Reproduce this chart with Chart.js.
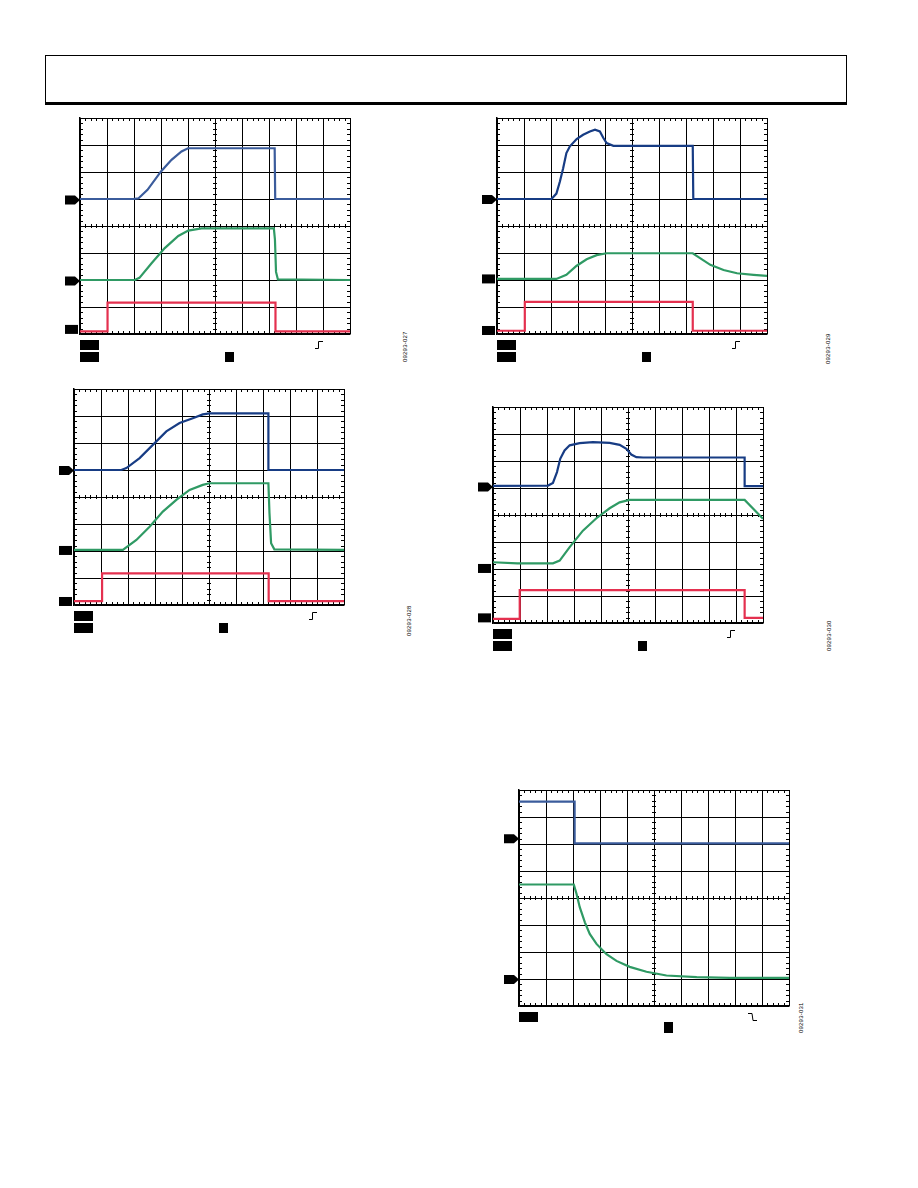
<!DOCTYPE html>
<html>
<head>
<meta charset="utf-8">
<script src="https://cdn.jsdelivr.net/npm/chart.js@4"></script>
<style>
  body { margin: 0; background: #fff; width: 918px; height: 1188px; position: relative; overflow: hidden; font-family: "Liberation Sans", Arial, sans-serif; }
  .cabecalho { position: absolute; left: 45px; top: 55px; width: 800px; height: 46px; border: 1px solid #000; border-bottom: 3px solid #000; }
  canvas { position: absolute; }
  .ident { position: absolute; font-size: 6px; line-height: 6px; color: #000; transform: rotate(-90deg); transform-origin: left top; white-space: nowrap; letter-spacing: 0.2px; }
</style>
</head>
<body>
<div class="cabecalho"></div>

<canvas id="painel1" width="295" height="253" style="left:60px;top:113px"></canvas>
<canvas id="painel2" width="295" height="253" style="left:477px;top:113px"></canvas>
<canvas id="painel3" width="295" height="253" style="left:54px;top:384px"></canvas>
<canvas id="painel4" width="295" height="253" style="left:473px;top:402px"></canvas>
<canvas id="painel5" width="295" height="253" style="left:499px;top:785px"></canvas>

<div class="ident" style="left:402px;top:362px">09293-027</div>
<div class="ident" style="left:825px;top:364px">09293-029</div>
<div class="ident" style="left:406px;top:636px">09293-028</div>
<div class="ident" style="left:826px;top:651px">09293-030</div>
<div class="ident" style="left:798px;top:1033px">09293-031</div>

<script>
// Divisões da tela do osciloscópio (10 x 8)
const divisoesX = [0, 1, 2, 3, 4, 5, 6, 7, 8, 9, 10];
const divisoesY = [0, 1, 2, 3, 4, 5, 6, 7, 8];

// Painel 1 (superior esquerdo)
const p1Azul = [[0, 5], [1.97, 5], [2.16, 5.02], [2.5, 5.34], [3.0, 6.02], [3.39, 6.45], [3.76, 6.76], [4.0, 6.88], [7.21, 6.88], [7.23, 5.0], [10, 5]];
const p1Verde = [[0, 2], [2.03, 2], [2.2, 2.08], [2.65, 2.62], [3.14, 3.18], [3.64, 3.63], [4.01, 3.83], [4.5, 3.91], [7.18, 3.91], [7.22, 3.5], [7.26, 2.3], [7.33, 2.02], [10, 2]];
const p1Vermelho = [[0, 0.1], [1.02, 0.1], [1.02, 1.16], [7.24, 1.16], [7.24, 0.1], [10, 0.1]];

// Painel 2 (superior direito)
const p2Azul = [[0, 5], [2.02, 5], [2.2, 5.2], [2.33, 5.65], [2.45, 6.14], [2.57, 6.7], [2.7, 6.95], [2.95, 7.22], [3.19, 7.38], [3.44, 7.5], [3.63, 7.57], [3.81, 7.5], [3.94, 7.26], [4.06, 7.07], [4.31, 6.97], [7.25, 6.97], [7.27, 5.0], [10, 5]];
const p2Verde = [[0, 2.04], [2.2, 2.04], [2.57, 2.19], [2.94, 2.52], [3.32, 2.77], [3.69, 2.92], [4.06, 2.99], [7.25, 2.99], [7.52, 2.81], [7.9, 2.56], [8.39, 2.37], [8.89, 2.25], [9.5, 2.19], [10, 2.15]];
const p2Vermelho = [[0, 0.12], [1.03, 0.12], [1.03, 1.19], [7.25, 1.19], [7.25, 0.12], [10, 0.12]];

// Painel 3 (meio esquerdo)
const p3Azul = [[0, 5], [1.75, 5], [1.94, 5.07], [2.43, 5.44], [2.92, 5.93], [3.42, 6.43], [3.91, 6.74], [4.4, 6.92], [4.77, 7.06], [5.02, 7.1], [7.2, 7.1], [7.2, 5.0], [10, 5]];
const p3Verde = [[0, 2.04], [1.81, 2.04], [2.31, 2.41], [2.8, 2.9], [3.29, 3.46], [3.79, 3.89], [4.28, 4.26], [4.77, 4.45], [5.02, 4.51], [7.2, 4.51], [7.24, 3.4], [7.3, 2.29], [7.42, 2.06], [10, 2.04]];
const p3Vermelho = [[0, 0.14], [1.04, 0.14], [1.04, 1.17], [7.21, 1.17], [7.21, 0.14], [10, 0.14]];

// Painel 4 (meio direito)
const p4Azul = [[0, 5.08], [2.04, 5.09], [2.22, 5.19], [2.37, 5.59], [2.49, 6.08], [2.65, 6.39], [2.84, 6.58], [3.21, 6.66], [3.7, 6.7], [4.32, 6.67], [4.69, 6.6], [4.94, 6.45], [5.12, 6.24], [5.31, 6.14], [5.56, 6.13], [9.32, 6.13], [9.32, 5.07], [10, 5.07]];
const p4Verde = [[0, 2.25], [0.9, 2.21], [2.22, 2.21], [2.47, 2.31], [2.84, 2.81], [3.33, 3.42], [3.83, 3.88], [4.32, 4.25], [4.69, 4.47], [5.06, 4.56], [9.32, 4.56], [10, 3.86]];
const p4Vermelho = [[0, 0.15], [0.99, 0.15], [0.99, 1.22], [9.32, 1.22], [9.32, 0.19], [10, 0.19]];

// Painel 5 (inferior direito)
const p5Azul = [[0, 7.57], [2.06, 7.57], [2.06, 6.02], [10, 6.02]];
const p5Verde = [[0, 4.5], [2.03, 4.5], [2.13, 4.16], [2.25, 3.66], [2.44, 3.1], [2.62, 2.67], [2.87, 2.3], [3.24, 1.92], [3.61, 1.67], [4.1, 1.45], [4.72, 1.27], [5.46, 1.13], [6.58, 1.07], [7.81, 1.04], [10, 1.04]];

const azulClaro = '#3b5c9c';
const azulEscuro = '#173c84';
const verde = '#2f9a64';
const vermelho = '#e4304f';

// Plugin que desenha as marcas menores, os marcadores de canal e as etiquetas
const pluginOsciloscopio = {
    id: 'osciloscopio',
    beforeDatasetsDraw(chart) {
        const ctx = chart.ctx;
        const a = chart.chartArea;
        const sx = chart.scales.x, sy = chart.scales.y;
        ctx.save();
        ctx.strokeStyle = '#000';
        ctx.lineWidth = 1;
        ctx.beginPath();
        for (let v = 0.2; v < 10; v += 0.2) {
            const px = Math.round(sx.getPixelForValue(v)) + 0.5;
            ctx.moveTo(px, a.top); ctx.lineTo(px, a.top + 3);
            ctx.moveTo(px, a.bottom); ctx.lineTo(px, a.bottom - 3);
            const cy = sy.getPixelForValue(4);
            ctx.moveTo(px, cy - 2); ctx.lineTo(px, cy + 2);
        }
        for (let v = 0.2; v < 8; v += 0.2) {
            const py = Math.round(sy.getPixelForValue(v)) + 0.5;
            ctx.moveTo(a.left, py); ctx.lineTo(a.left + 3, py);
            ctx.moveTo(a.right, py); ctx.lineTo(a.right - 3, py);
            const cx = sx.getPixelForValue(5);
            ctx.moveTo(cx - 2, py); ctx.lineTo(cx + 2, py);
        }
        ctx.stroke();
        ctx.restore();
    },
    afterDraw(chart) {
        const op = chart.options.plugins.osciloscopio;
        const ctx = chart.ctx;
        const a = chart.chartArea;
        const sy = chart.scales.y;
        ctx.save();
        ctx.fillStyle = '#000';
        // marcadores de canal à esquerda
        op.marcadores.forEach(function (m) {
            const py = sy.getPixelForValue(m.y);
            if (m.tipo === 'seta') {
                ctx.beginPath();
                ctx.moveTo(a.left - 15, py - 4.5);
                ctx.lineTo(a.left - 5, py - 4.5);
                ctx.lineTo(a.left, py);
                ctx.lineTo(a.left - 5, py + 4.5);
                ctx.lineTo(a.left - 15, py + 4.5);
                ctx.closePath();
                ctx.fill();
            } else {
                ctx.fillRect(a.left - 15, py - 4.5, 13, 9);
            }
        });
        // etiquetas (texto censurado) abaixo da tela
        ctx.fillRect(a.left, a.bottom + 6, 19, 10);
        if (op.duasLinhas) {
            ctx.fillRect(a.left, a.bottom + 18, 19, 10);
            ctx.fillRect(a.left + 145, a.bottom + 18, 9, 10);
        } else {
            ctx.fillRect(a.left + 145, a.bottom + 16, 9, 11);
        }
        // símbolo do gatilho
        const tx = a.left + op.gatilhoX, ty = a.bottom + 7;
        ctx.strokeStyle = '#000';
        ctx.lineWidth = 1;
        ctx.beginPath();
        if (op.gatilho === 'sobe') {
            ctx.moveTo(tx, ty + 7.5); ctx.lineTo(tx + 3.5, ty + 7.5);
            ctx.lineTo(tx + 3.5, ty + 0.5); ctx.lineTo(tx + 8, ty + 0.5);
        } else {
            ctx.moveTo(tx, ty + 0.5); ctx.lineTo(tx + 4, ty + 0.5);
            ctx.lineTo(tx + 5, ty + 7.5); ctx.lineTo(tx + 9, ty + 7.5);
        }
        ctx.stroke();
        ctx.restore();
    }
};

function serie(pontos, cor) {
    return {
        data: pontos.map(function (p) { return { x: p[0], y: p[1] }; }),
        borderColor: cor,
        borderWidth: 2.2,
        pointRadius: 0,
        tension: 0,
        fill: false
    };
}

function criarPainel(id, series, opcoes) {
    const eixo = function (lista) {
        return {
            type: 'linear',
            min: lista[0],
            max: lista[lista.length - 1],
            afterBuildTicks: function (s) { s.ticks = lista.map(function (v) { return { value: v }; }); },
            ticks: { display: false },
            grid: { color: '#000', lineWidth: 1, drawTicks: false },
            border: { color: '#000', width: 1.5 }
        };
    };
    return new Chart(document.getElementById(id), {
        type: 'line',
        data: { datasets: series },
        options: {
            responsive: false,
            animation: false,
            devicePixelRatio: 1,
            layout: { padding: { left: 20, right: 5, top: 5, bottom: 32 } },
            plugins: {
                legend: { display: false },
                tooltip: { enabled: false },
                osciloscopio: opcoes
            },
            scales: { x: eixo(divisoesX), y: eixo(divisoesY) }
        },
        plugins: [pluginOsciloscopio]
    });
}

criarPainel('painel1', [serie(p1Azul, azulClaro), serie(p1Verde, verde), serie(p1Vermelho, vermelho)], {
    marcadores: [{ y: 4.96, tipo: 'seta' }, { y: 1.96, tipo: 'seta' }, { y: 0.17, tipo: 'caixa' }],
    duasLinhas: true, gatilho: 'sobe', gatilhoX: 235
});
criarPainel('painel2', [serie(p2Azul, azulEscuro), serie(p2Verde, verde), serie(p2Vermelho, vermelho)], {
    marcadores: [{ y: 4.98, tipo: 'seta' }, { y: 2.04, tipo: 'caixa' }, { y: 0.13, tipo: 'caixa' }],
    duasLinhas: true, gatilho: 'sobe', gatilhoX: 235
});
criarPainel('painel3', [serie(p3Azul, azulEscuro), serie(p3Verde, verde), serie(p3Vermelho, vermelho)], {
    marcadores: [{ y: 4.98, tipo: 'seta' }, { y: 2.02, tipo: 'caixa' }, { y: 0.13, tipo: 'caixa' }],
    duasLinhas: true, gatilho: 'sobe', gatilhoX: 235
});
criarPainel('painel4', [serie(p4Azul, azulEscuro), serie(p4Verde, verde), serie(p4Vermelho, vermelho)], {
    marcadores: [{ y: 5.04, tipo: 'seta' }, { y: 2.02, tipo: 'caixa' }, { y: 0.19, tipo: 'caixa' }],
    duasLinhas: true, gatilho: 'sobe', gatilhoX: 234
});
criarPainel('painel5', [serie(p5Azul, azulClaro), serie(p5Verde, verde)], {
    marcadores: [{ y: 6.19, tipo: 'seta' }, { y: 0.98, tipo: 'seta' }],
    duasLinhas: false, gatilho: 'desce', gatilhoX: 229
});
</script>
</body>
</html>
